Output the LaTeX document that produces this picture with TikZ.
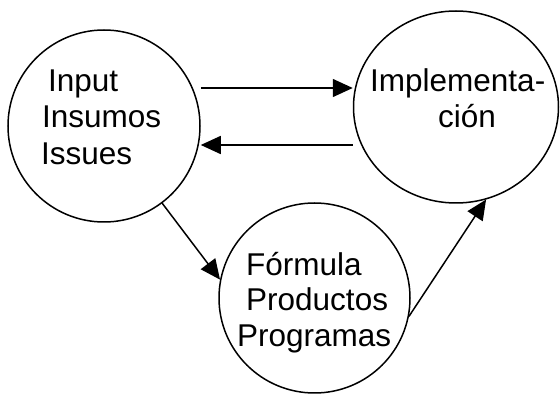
\documentclass[tikz,border=0pt]{standalone}
\usepackage{fontspec}
\setmainfont{Liberation Sans}
\usetikzlibrary{arrows.meta,shapes.geometric}
\begin{document}
\begin{tikzpicture}[x=1pt,y=-1pt,
  bubble/.style={draw,ellipse,line width=1.5pt,inner sep=0pt},
  lbl/.style={anchor=base west,inner sep=0pt,font=\fontsize{31.5}{36}\selectfont},
  arr/.style={line width=1.5pt,-{Triangle[length=20pt,width=18pt]}}]
\useasboundingbox (0,0) rectangle (560,395);
\node[bubble,minimum width=192pt,minimum height=192pt] (in) at (104,126) {};
\node[bubble,minimum width=205pt,minimum height=192pt] (impl) at (456,107) {};
\node[bubble,minimum width=191pt,minimum height=190pt] (form) at (314.5,298) {};
\node[lbl] (t1) at (48,92) {Input};
\node[lbl] (t2) at (42,128) {Insumos};
\node[lbl] (t3) at (41,165) {Issues};
\node[lbl] (t4) at (370,92) {Implementa-};
\node[lbl] (t5) at (438,128) {ción};
\node[lbl] (t6) at (246,276) {Fórmula};
\node[lbl] (t7) at (246,311) {Productos};
\node[lbl] (t8) at (237,347) {Programas};
\draw[arr] (in.east |- 0,88) -- (impl.west |- 0,88);
\draw[arr] (impl.west |- 0,145) -- (in.east |- 0,145);
\draw[arr] (in.-53) -- (form.169);
\draw[arr] (form.-11) -- (impl.-72);
\end{tikzpicture}
\end{document}
